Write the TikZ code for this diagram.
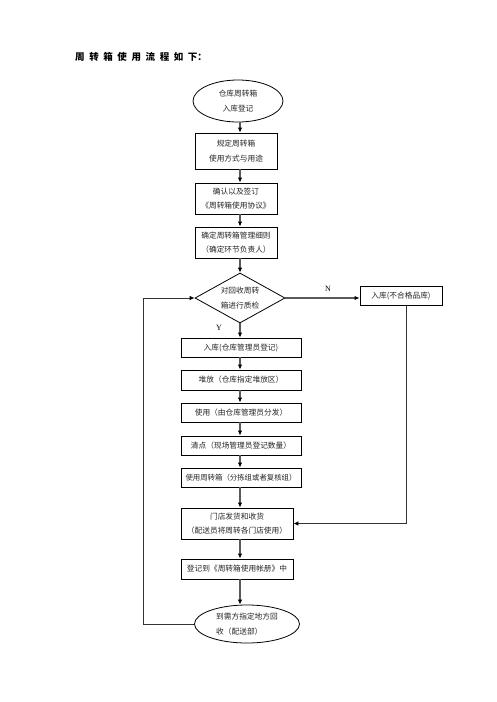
\documentclass[tikz,border=0pt]{standalone}
\usepackage{fontspec}
\setmainfont{Noto Sans CJK SC}
\newfontfamily\latinserif{Liberation Serif}
\usetikzlibrary{shapes.geometric,arrows.meta}
\begin{document}
\begin{tikzpicture}[x=1pt,y=-1pt,
  every node/.style={font=\fontsize{7.7}{14.5}\selectfont, text=black!85, inner sep=0pt},
  boxn/.style={draw=black, line width=0.9pt, rectangle, align=center},
  ovaln/.style={draw=black, line width=0.8pt, ellipse},
  arr/.style={draw=black!65, line width=1.3pt, -{Latex[color=black,length=5pt,width=4.5pt]}},
  thinarr/.style={draw=black!80, line width=0.8pt, -{Latex[color=black,length=5pt,width=4.5pt]}},
  lbl/.style={font=\latinserif\fontsize{8}{9}\selectfont, text=black}
]
\useasboundingbox (0,0) rectangle (496,702);
\fill[white] (0,0) rectangle (496,702);
\coordinate (ax) at (240,0);

\node[anchor=west, font=\bfseries\fontsize{9.5}{11}\selectfont, text=black] (title) at (75,57)
  {周\hspace{4.6pt}转\hspace{4.6pt}箱\hspace{4.6pt}使\hspace{4.6pt}用\hspace{4.6pt}流\hspace{4.6pt}程\hspace{4.6pt}如\hspace{4.6pt}下：};

\node[ovaln, minimum width=90, minimum height=42, align=center] (e1) at (238,101) {仓库周转箱\\入库登记};
\node[boxn, minimum width=82, minimum height=36] (b2) at (236,151) {规定周转箱\\使用方式与用途};
\node[boxn, minimum width=82, minimum height=31] (b3) at (236,198.5) {确认以及签订\\《周转箱使用协议》};
\node[boxn, minimum width=82, minimum height=31] (b4) at (236,242.5) {确定周转箱管理细则\\（确定环节负责人）};
\node[draw=black, line width=0.8pt, diamond, aspect=1.8, minimum width=90, minimum height=50, align=center] (d) at (240,298) {对回收周转\\箱进行质检};
\node[boxn, minimum width=82, minimum height=19] (bn) at (401,296) {入库(不合格品库)};
\node[boxn, minimum width=120, minimum height=19] (b5) at (241,347.5) {入库(仓库管理员登记)};
\node[boxn, minimum width=120, minimum height=20] (b6) at (241,380) {堆放（仓库指定堆放区）};
\node[boxn, minimum width=120, minimum height=19] (b7) at (241,412.5) {使用（由仓库管理员分发）};
\node[boxn, minimum width=120, minimum height=19] (b8) at (241,445.5) {清点（现场管理员登记数量）};
\node[boxn, minimum width=120, minimum height=19, font=\fontsize{7.4}{14.5}\selectfont] (b9) at (241,477.5) {使用周转箱（分拣组或者复核组）};
\node[boxn, minimum width=112, minimum height=31] (b10) at (237,523.5) {门店发货和收货\\（配送员将周转各门店使用）};
\node[boxn, minimum width=112, minimum height=20] (b11) at (237,569) {登记到《周转箱使用帐册》中};
\node[ovaln, minimum width=105, minimum height=38, align=left] (e2) at (247,624) {到需方指定地方回\\收（配送部）\hspace{24pt}};

\node[lbl] (ln) at (328,289) {N};
\node[lbl] (ly) at (219,328) {Y};

\draw[arr] (e1.south -| ax) -- (b2.north -| ax);
\draw[arr] (b2.south -| ax) -- (b3.north -| ax);
\draw[arr] (b3.south -| ax) -- (b4.north -| ax);
\draw[arr] (b4.south -| ax) -- (d.north);
\draw[arr] (d.south) -- (b5.north -| ax);
\draw[arr] (b5.south -| ax) -- (b6.north -| ax);
\draw[arr] (b6.south -| ax) -- (b7.north -| ax);
\draw[arr] (b7.south -| ax) -- (b8.north -| ax);
\draw[arr] (b8.south -| ax) -- (b9.north -| ax);
\draw[arr] (b9.south -| ax) -- (b10.north -| ax);
\draw[arr] (b10.south -| ax) -- (b11.north -| ax);
\draw[arr] (b11.south -| ax) -- (e2.north -| ax);

\draw[arr] (d.east) -- (d.east -| bn.west);
\coordinate (nr) at (406,0);
\coordinate (nb) at (bn.south -| nr);
\draw[thinarr] (nb) -- (nb |- b10.east) -- (b10.east);
\coordinate (lx) at (143,0);
\draw[thinarr] (e2.west) -- (e2.west -| lx) -- (d.west -| lx) -- (d.west);
\end{tikzpicture}
\end{document}
